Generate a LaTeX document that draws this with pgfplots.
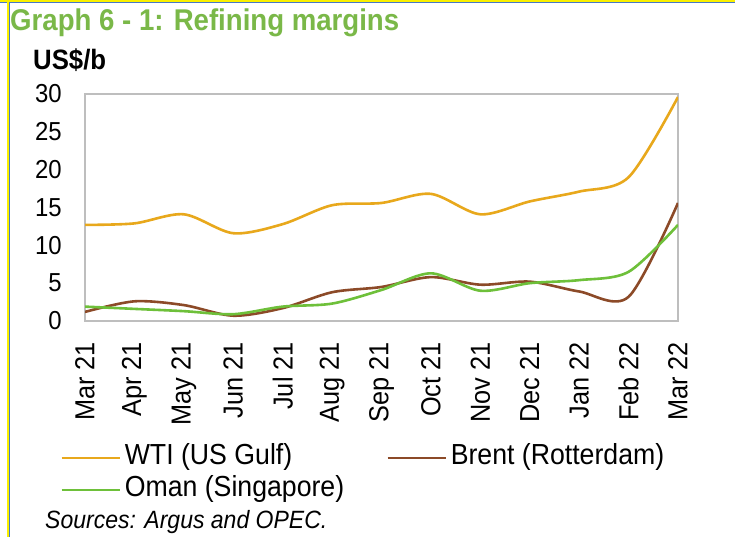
\documentclass[border=0pt]{standalone}
\usepackage{fontspec}
\setmainfont{Liberation Sans}[FakeStretch=0.92]
\usepackage{pgfplots}
\pgfplotsset{compat=1.18}
\definecolor{wti}{RGB}{232,168,28}
\definecolor{brent}{RGB}{140,74,40}
\definecolor{oman}{RGB}{110,192,58}
\definecolor{ttl}{RGB}{122,184,72}
\definecolor{frm}{RGB}{190,190,190}
\definecolor{bord}{RGB}{250,240,0}
\definecolor{bblue}{RGB}{70,120,200}
\begin{document}
\begin{tikzpicture}[x=1pt,y=1pt]
\useasboundingbox (0,0) rectangle (735,537);
\fill[white] (0,0) rectangle (735,537);
% frame of the figure
\draw[bord, line width=1.6pt] (0,536) -- (735,536);
\draw[bblue, line width=0.8pt] (0,534.6) -- (735,534.6);
\draw[bord, line width=1.6pt] (8,0) -- (8,537);
\draw[bblue, line width=0.8pt] (9.6,0) -- (9.6,535);
% title
\node[anchor=base west, inner sep=0pt, text=ttl, font=\fontsize{30}{34}\selectfont\bfseries] at (10,537-31) {Graph 6 - 1: Refining margins};
\node[anchor=base west, inner sep=0pt, font=\fontsize{28}{32}\selectfont\bfseries] at (33,537-70) {US\$/b};
\begin{axis}[
  at={(85pt,216pt)}, anchor=south west,
  scale only axis, width=593pt, height=227pt,
  xmin=0, xmax=12, ymin=0, ymax=30,
  xtick={0,...,12},
  xticklabels={Mar 21,Apr 21,May 21,Jun 21,Jul 21,Aug 21,Sep 21,Oct 21,Nov 21,Dec 21,Jan 22,Feb 22,Mar 22},
  ytick={0,5,...,30},
  major tick length=0pt,
  axis line style={frm, line width=1.6pt},
  /pgf/number format/assume math mode=true,
  yticklabel style={font=\fontsize{26}{30}\selectfont, inner sep=0pt, anchor=east, xshift=-23pt},
  xticklabel style={font=\fontsize{27.5}{30}\selectfont, inner sep=0pt, rotate=90, anchor=east, xshift=-21pt},
  legend columns=2,
  legend style={at={(-0.042,-0.545)}, anchor=north west, draw=none, fill=none,
    inner sep=0pt, font=\fontsize{29}{32}\selectfont,
    nodes={inner sep=0pt, text height=20pt, text depth=6pt},
    row sep=6pt,
    /tikz/every even column/.append style={column sep=42pt}},
  legend cell align=left,
  legend image code/.code={\draw[#1, line width=2.5pt] (0pt,0pt) -- (58pt,0pt);},
]
\addplot[wti, line width=2.6pt, smooth, tension=0.5] coordinates {
(0,12.7) (1,12.9) (2,14.1) (3,11.6) (4,12.8) (5,15.3) (6,15.6) (7,16.8) (8,14.1) (9,15.8) (10,17.1) (11,19.0) (12,29.6)};
\addlegendentry{\hspace{4pt}WTI (US Gulf)}
\addplot[brent, line width=2.6pt, smooth, tension=0.5] coordinates {
(0,1.2) (1,2.6) (2,2.1) (3,0.7) (4,1.7) (5,3.8) (6,4.5) (7,5.8) (8,4.8) (9,5.2) (10,3.9) (11,3.2) (12,15.6)};
\addlegendentry{\hspace{4pt}Brent (Rotterdam)}
\addplot[oman, line width=2.6pt, smooth, tension=0.5] coordinates {
(0,1.9) (1,1.6) (2,1.3) (3,0.9) (4,1.9) (5,2.3) (6,4.1) (7,6.3) (8,4.0) (9,5.0) (10,5.4) (11,6.5) (12,12.7)};
\addlegendentry{\hspace{4pt}Oman (Singapore)}
\end{axis}
\node[anchor=base west, inner sep=0pt, font=\fontsize{25}{30}\selectfont\itshape] at (45,537-529) {Sources: Argus and OPEC.};
\end{tikzpicture}
\end{document}
